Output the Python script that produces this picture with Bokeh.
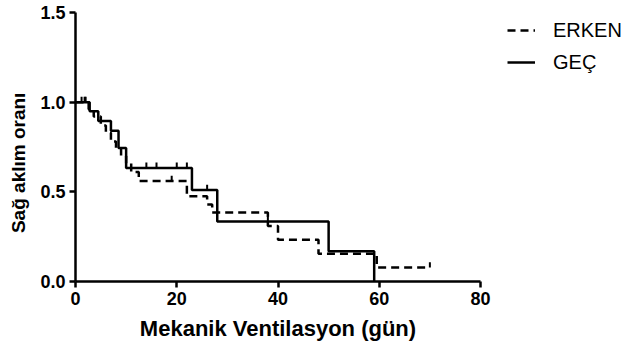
from bokeh.plotting import figure
from bokeh.models import Range1d, FixedTicker, Legend, LegendItem
from bokeh.embed import file_html
from bokeh.resources import INLINE

# Kaplan-Meier step data
erken_t = [0, 2.6, 3.6, 5, 6, 7, 8, 9, 10, 11, 12.5, 22, 26, 27, 38, 40, 48, 59.5, 70]
erken_s = [1.0, 0.96, 0.92, 0.87, 0.83, 0.78, 0.74, 0.70, 0.66, 0.61, 0.56, 0.475, 0.43, 0.385, 0.31, 0.233, 0.155, 0.078, 0.078]
erken_cens_t = [2, 19, 70]
erken_cens_s = [1.0, 0.56, 0.078]

gec_t = [0, 2.8, 4.5, 7, 8.5, 10, 23, 28, 50, 59]
gec_s = [1.0, 0.95, 0.895, 0.84, 0.745, 0.633, 0.51, 0.335, 0.168, 0.0]
gec_cens_t = [1.2, 1.8, 14, 16, 20, 22, 26, 38]
gec_cens_s = [1.0, 1.0, 0.633, 0.633, 0.633, 0.633, 0.51, 0.335]

x_ticks = [0, 20, 40, 60, 80]
y_ticks = [0.0, 0.5, 1.0, 1.5]
series_labels = ["ERKEN", "GEÇ"]
x_title = "Mekanik Ventilasyon (gün)"
y_title = "Sağ aklım oranı"

FONT = "Liberation Sans"
TICK_LEN = 0.03  # censor tick length in y data units

p = figure(frame_width=405, frame_height=269,
           x_range=Range1d(0, 80), y_range=Range1d(0, 1.5),
           output_backend="svg", toolbar_location=None,
           min_border_left=75, min_border_top=12,
           min_border_right=145, min_border_bottom=64)
p.outline_line_color = None
p.grid.visible = False
p.background_fill_color = "white"
p.border_fill_color = "white"

r_erken = p.step(erken_t, erken_s, mode="after", line_color="black",
                 line_width=2.5, line_dash="8 5")
p.segment(x0=erken_cens_t, y0=erken_cens_s, x1=erken_cens_t,
          y1=[s + TICK_LEN for s in erken_cens_s], line_color="black", line_width=2)

r_gec = p.step(gec_t, gec_s, mode="after", line_color="black", line_width=2.5)
p.segment(x0=gec_cens_t, y0=gec_cens_s, x1=gec_cens_t,
          y1=[s + TICK_LEN for s in gec_cens_s], line_color="black", line_width=2)

for ax in (p.xaxis[0], p.yaxis[0]):
    ax.axis_line_width = 2.5
    ax.axis_line_color = "black"
    ax.major_tick_line_width = 2.5
    ax.major_tick_line_color = "black"
    ax.major_tick_out = 6
    ax.major_tick_in = 0
    ax.minor_tick_line_color = None
    ax.major_label_text_font = FONT
    ax.major_label_text_font_style = "bold"
    ax.major_label_text_font_size = "18px"
    ax.major_label_text_color = "black"
    ax.axis_label_text_font = FONT
    ax.axis_label_text_font_style = "bold"
    ax.axis_label_text_color = "black"
    ax.major_label_standoff = 4

p.xaxis.ticker = FixedTicker(ticks=x_ticks)
p.yaxis.ticker = FixedTicker(ticks=y_ticks)
p.yaxis.major_label_overrides = {v: f"{v:.1f}" for v in y_ticks}
p.xaxis.axis_label = x_title
# trailing no-break spaces shift the visible title slightly downward, as in the reference
p.yaxis.axis_label = y_title + "\u00a0" * 6
p.xaxis.axis_label_text_font_size = "22px"
p.yaxis.axis_label_text_font_size = "19px"
p.xaxis.axis_label_standoff = 8
p.yaxis.axis_label_standoff = 8

legend = Legend(items=[LegendItem(label=series_labels[0], renderers=[r_erken]),
                       LegendItem(label=series_labels[1], renderers=[r_gec])],
                location=(27, 207))
legend.label_text_font = FONT
legend.label_text_font_size = "20px"
legend.label_text_color = "black"
legend.glyph_width = 28
legend.glyph_height = 24
legend.label_height = 24
legend.label_standoff = 18
legend.spacing = 8
legend.padding = 0
legend.margin = 0
legend.border_line_color = None
legend.background_fill_alpha = 0
p.add_layout(legend, "right")

open("out.html", "w").write(file_html(p, INLINE))
